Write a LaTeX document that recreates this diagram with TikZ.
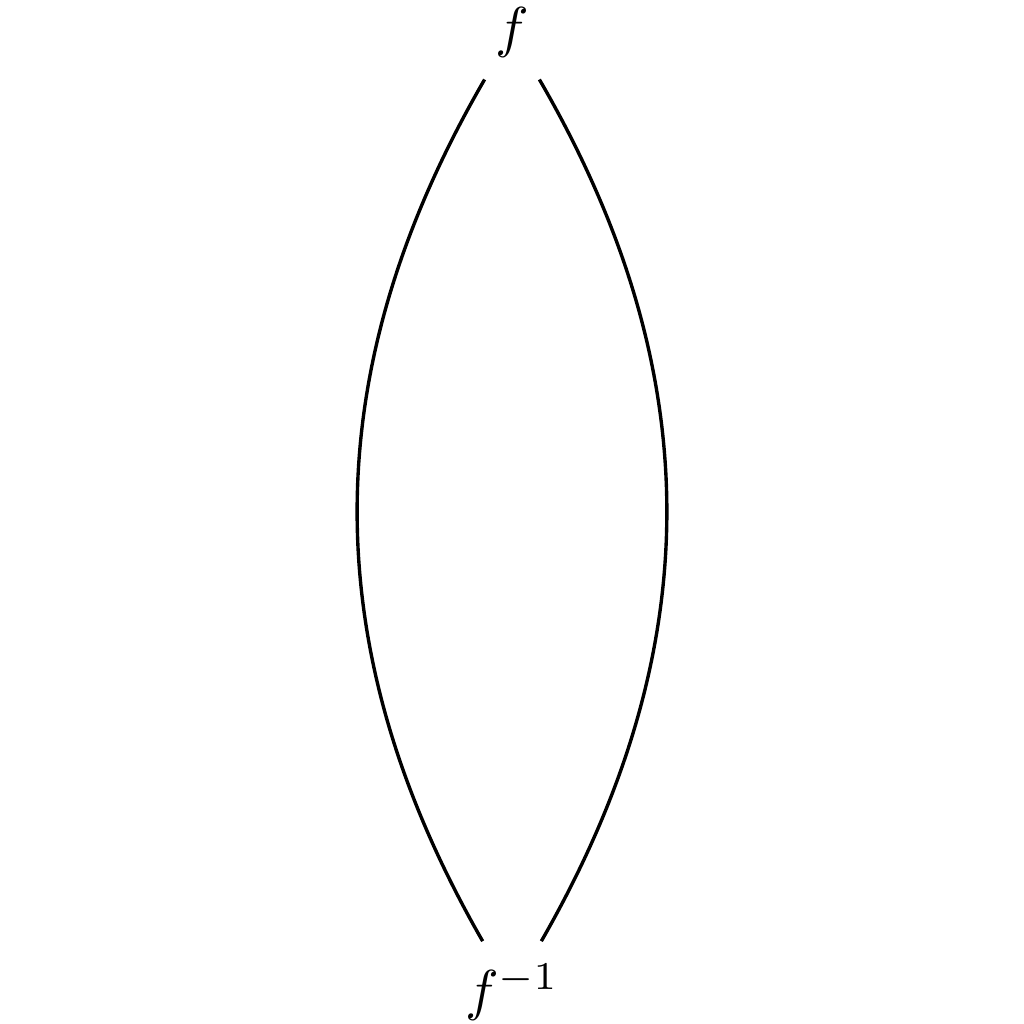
\documentclass[tikz,border=0pt]{standalone}
\usepackage{amsmath}
\usepackage{tikz}
\usetikzlibrary{positioning}

\begin{document}
\begin{tikzpicture}[
    map/.style={inner sep=3.8pt},
    link/.style={semithick}
]
\useasboundingbox (-3.2,-3.2) rectangle (3.2,3.2);
\node[map] (f) at (0,3) {$f$};
\node[map] (finv) at (0,-3) {$f^{-1}$};
\draw[link] (f) to[bend right=30] (finv);
\draw[link] (f) to[bend left=30] (finv);
\end{tikzpicture}
\end{document}
